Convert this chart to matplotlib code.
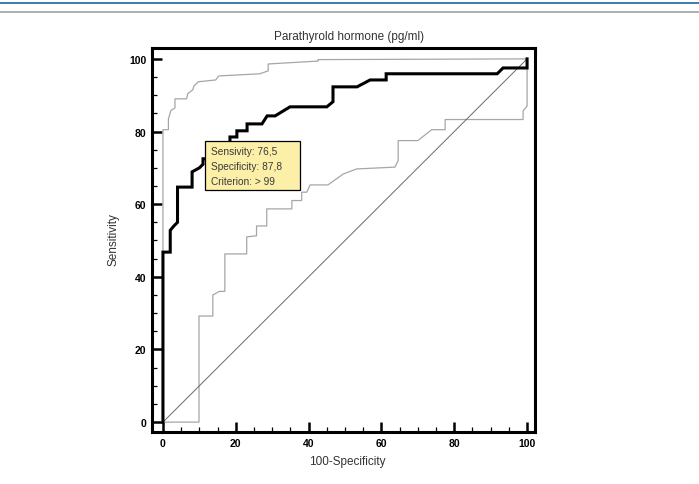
"""
ROC curve for parathyroid hormone with confidence bands
"""

import matplotlib
matplotlib.use("Agg")
import matplotlib.pyplot as plt
from matplotlib.lines import Line2D
from matplotlib.patches import Rectangle
from matplotlib.ticker import MultipleLocator

# ROC curve (100-Specificity, Sensitivity)
roc_x = [0, 0, 2, 2, 3, 4, 4, 8, 8, 10, 11, 11, 12, 12, 18.4, 18.4, 20.3, 20.3, 23.1, 23.1,
         27.2, 28.6, 30.8, 34.9, 45, 46.7, 46.7, 53.3, 56.9, 61.3, 61.3, 91.8, 93.4, 100, 100]
roc_y = [0, 46.8, 46.8, 52.8, 54, 55, 64.7, 64.7, 68.9, 70, 71, 72.5, 72.5, 76, 76, 78.5, 78.5, 80.2,
         80.2, 82.1, 82.1, 84.3, 84.3, 86.8, 86.8, 88.2, 92.3, 92.3, 94.2, 94.2, 95.9, 95.9, 97.5,
         97.5, 100]

# upper confidence bound
upper_x = [0, 0, 1.5, 1.5, 2.2, 3.3, 3.3, 6.5, 6.8, 8.2, 8.5, 9.7, 14.5, 15.3, 26.6, 28.9,
           28.9, 42.6, 42.6, 100]
upper_y = [0, 80.5, 80.5, 83.5, 85.8, 86.5, 89, 89, 90.4, 91.5, 92.5, 93.7, 94.2, 95.3, 95.9, 96.7,
           98.6, 99.4, 99.8, 100]

# lower confidence bound
lower_x = [0, 9.9, 9.9, 13.7, 13.7, 15.5, 17, 17, 23, 23, 25.7, 25.7, 28.5, 28.5, 35.4, 35.4,
           38.1, 38.1, 39.5, 40.4, 45.3, 49.5, 53.2, 63.7, 64.6, 64.6, 70, 73.8, 77.5, 77.5,
           98.9, 98.9, 100, 100]
lower_y = [0, 0, 29.2, 29.2, 35, 36, 36, 46.3, 46.3, 51, 51.3, 54, 54, 58.7, 58.7, 61,
           61, 63.3, 63.3, 65.3, 65.3, 68.3, 69.7, 70.2, 72, 77.5, 77.5, 80.5, 80.5, 83.3,
           83.3, 85.7, 87, 100]

box_lines = ["Sensivity: 76,5", "Specificity: 87,8", "Criterion: > 99"]
tick_values = [0, 20, 40, 60, 80, 100]

plt.rcParams['font.family'] = ['Liberation Sans', 'DejaVu Sans']

fig = plt.figure(figsize=(6.99, 4.85), dpi=100)
ax = fig.add_axes([0.2175, 0.107, 0.548, 0.792])

# header rules across the top of the page
fig.add_artist(Line2D([0, 1], [1 - 4 / 485, 1 - 4 / 485], color='#2b74a6', lw=1.3))
fig.add_artist(Line2D([0, 1], [1 - 13 / 485, 1 - 13 / 485], color='#a8a8a8', lw=1.3))

ax.plot(upper_x, upper_y, color='#a6a6a6', lw=0.9)
ax.plot(lower_x, lower_y, color='#a6a6a6', lw=0.9)
ax.plot([0, 100], [0, 100], color='#6a6a6a', lw=0.7)
ax.plot(roc_x, roc_y, color='black', lw=2.2, solid_joinstyle='miter')

# info box
ax.add_patch(Rectangle((11.5, 64.0), 26.1, 13.4, facecolor='#fcefa8', edgecolor='black',
                       lw=0.9, zorder=5))
for i, line in enumerate(box_lines):
    ax.text(13.2, 74.7 - i * 4.1, line, fontsize=7.3, color='#3a3a3a', va='center',
            family=['Liberation Sans Narrow', 'Liberation Sans'], zorder=6)

ax.set_xlim(-3.0, 102.2)
ax.set_ylim(-2.75, 103.0)
ax.set_xticks(tick_values)
ax.set_yticks(tick_values)
ax.xaxis.set_minor_locator(MultipleLocator(5))
ax.yaxis.set_minor_locator(MultipleLocator(5))
ax.tick_params(which='major', direction='in', length=7, width=1.8, labelsize=7.5, pad=4)
ax.tick_params(which='minor', direction='in', length=3.5, width=0.9)
for lbl in ax.get_xticklabels() + ax.get_yticklabels():
    lbl.set_fontweight('bold')
for sp in ax.spines.values():
    sp.set_linewidth(2.2)

fig.text(0.5, 1 - 37 / 485, 'Parathyrold hormone (pg/ml)', ha='center', va='center',
         fontsize=8.5, color='#333333')
fig.text(0.497, 1 - 462 / 485, '100-Specificity', ha='center', va='center',
         fontsize=8.5, color='#333333')
fig.text(113 / 699, 1 - 240 / 485, 'Sensitivity', ha='center', va='center', rotation=90,
         fontsize=8.5, color='#333333')

fig.savefig('out.png', dpi=100)
